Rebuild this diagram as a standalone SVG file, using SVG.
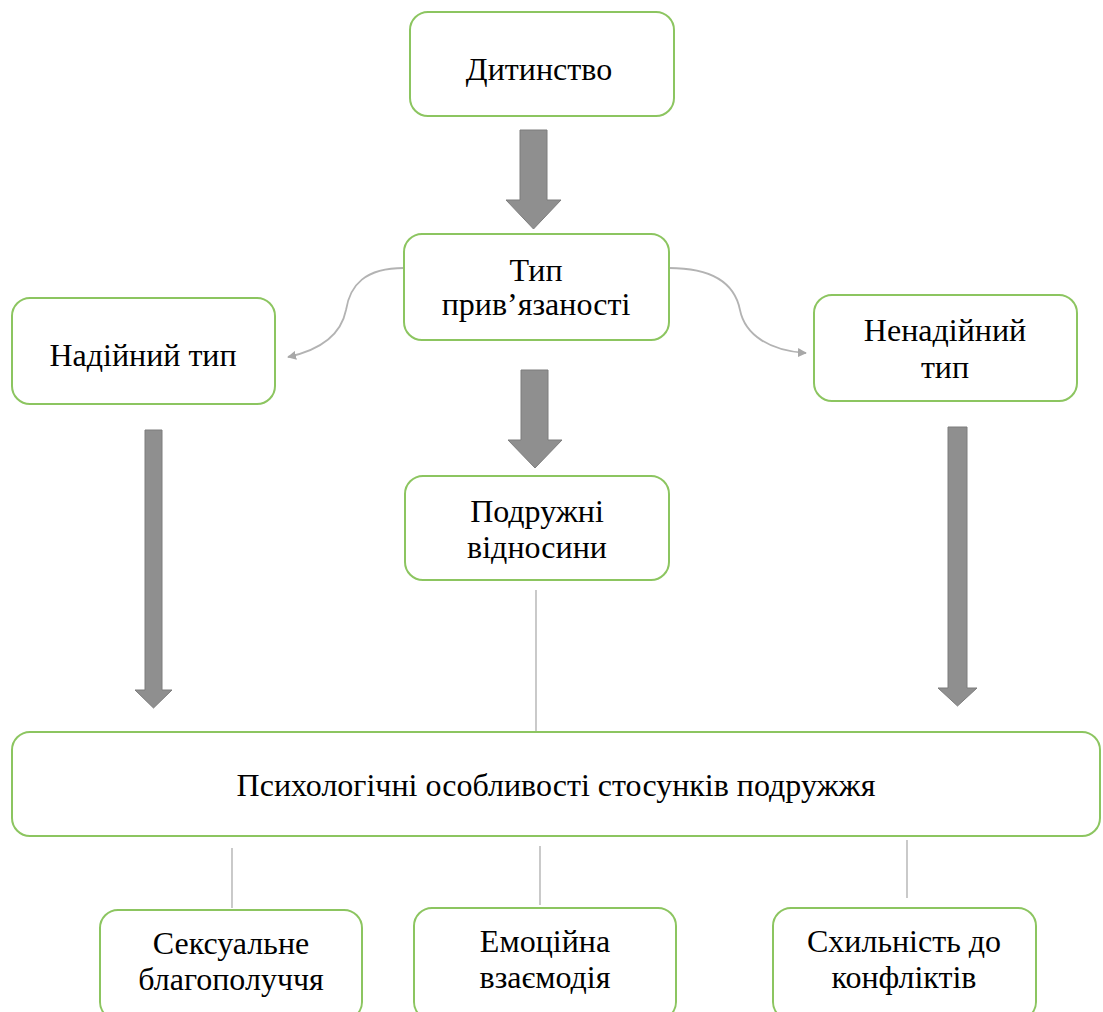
<svg xmlns="http://www.w3.org/2000/svg" width="1103" height="1012" viewBox="0 0 1103 1012">
<defs>
<style>
.box{fill:#fff;stroke:#8cc560;stroke-width:2}
.big{fill:#8f8f8f;stroke:#7d7d7d;stroke-width:1}
.ln{fill:none;stroke:#a6a6a6;stroke-width:1.2}
.cv{fill:none;stroke:#b3b3b3;stroke-width:1.8}
</style>
<marker id="ah" viewBox="0 0 10 10" refX="9" refY="5" markerWidth="5" markerHeight="5" orient="auto" markerUnits="strokeWidth"><path d="M0,0 L10,5 L0,10 z" fill="#a8a8a8"/></marker>
</defs>
<rect width="1103" height="1012" fill="#fff"/>
<g id="connectors">
<path class="big" d="M520,130 H547 V200 H561 L533.5,229 L506,200 H520 Z"/>
<path class="big" d="M521,370 H548 V440 H562 L535,468 L508,440 H521 Z"/>
<path class="big" d="M145,430 H162 V690 H172 L153.5,708 L135,690 H145 Z"/>
<path class="big" d="M948,427 H967 V688 H977 L957.5,706 L938,688 H948 Z"/>
<path class="cv" marker-end="url(#ah)" d="M404,268 C365,268 350,285 346,310 C341,335 320,350 288,357"/>
<path class="cv" marker-end="url(#ah)" d="M669,268 C715,268 735,285 740,310 C745,335 770,351 806,353"/>
<line class="ln" x1="536" y1="590" x2="536" y2="732"/>
<line class="ln" x1="232" y1="848" x2="232" y2="908"/>
<line class="ln" x1="540" y1="846" x2="540" y2="905"/>
<line class="ln" x1="907" y1="840" x2="907" y2="898"/>
</g>
<g id="n1"><rect class="box" x="410" y="12" width="264" height="104" rx="18"/><text font-family="Liberation Serif" font-size="32" text-anchor="middle" x="539" y="80">Дитинство</text></g>
<g id="n2"><rect class="box" x="404" y="234" width="265" height="106" rx="18"/><text font-family="Liberation Serif" font-size="32" text-anchor="middle" x="536" y="281">Тип</text><text font-family="Liberation Serif" font-size="32" text-anchor="middle" x="536" y="315">прив’язаності</text></g>
<g id="n3"><rect class="box" x="12" y="298" width="263" height="106" rx="18"/><text font-family="Liberation Serif" font-size="32" text-anchor="middle" x="143" y="366">Надійний тип</text></g>
<g id="n4"><rect class="box" x="814" y="295" width="263" height="106" rx="18"/><text font-family="Liberation Serif" font-size="32" text-anchor="middle" x="945" y="341">Ненадійний</text><text font-family="Liberation Serif" font-size="32" text-anchor="middle" x="945" y="378">тип</text></g>
<g id="n5"><rect class="box" x="405" y="476" width="264" height="104" rx="18"/><text font-family="Liberation Serif" font-size="32" text-anchor="middle" x="537" y="522">Подружні</text><text font-family="Liberation Serif" font-size="32" text-anchor="middle" x="537" y="558">відносини</text></g>
<g id="n6"><rect class="box" x="12" y="732" width="1088" height="104" rx="18"/><text font-family="Liberation Serif" font-size="32" text-anchor="middle" x="556" y="796">Психологічні особливості стосунків подружжя</text></g>
<g id="n7"><rect class="box" x="100" y="910" width="262" height="110" rx="18"/><text font-family="Liberation Serif" font-size="32" text-anchor="middle" x="231" y="954">Сексуальне</text><text font-family="Liberation Serif" font-size="32" text-anchor="middle" x="231" y="990">благополуччя</text></g>
<g id="n8"><rect class="box" x="414" y="908" width="262" height="112" rx="18"/><text font-family="Liberation Serif" font-size="32" text-anchor="middle" x="545" y="952">Емоційна</text><text font-family="Liberation Serif" font-size="32" text-anchor="middle" x="545" y="988">взаємодія</text></g>
<g id="n9"><rect class="box" x="773" y="908" width="263" height="112" rx="18"/><text font-family="Liberation Serif" font-size="32" text-anchor="middle" x="904" y="952">Схильність до</text><text font-family="Liberation Serif" font-size="32" text-anchor="middle" x="904" y="988">конфліктів</text></g>
</svg>
